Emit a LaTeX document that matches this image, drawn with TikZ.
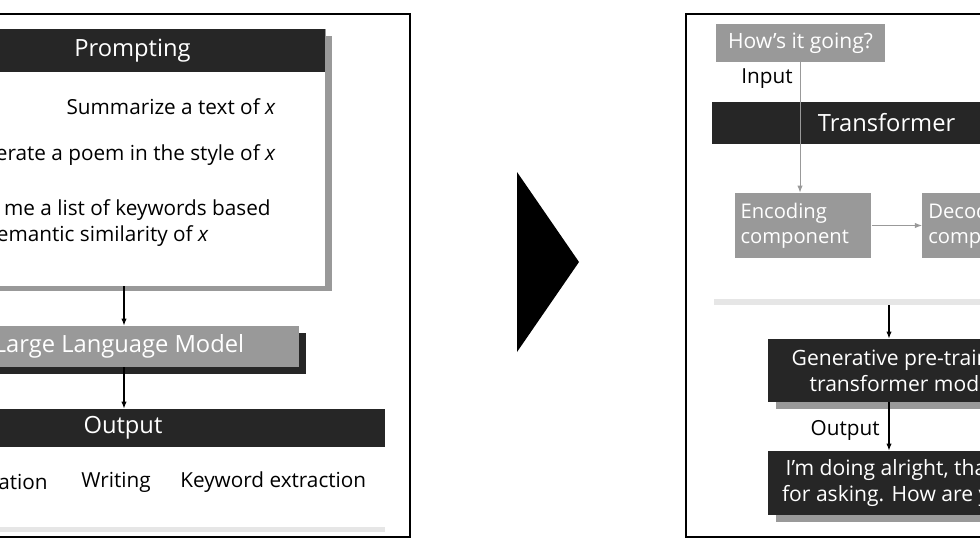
\documentclass[tikz,border=0pt]{standalone}
\usepackage{fontspec}
\setmainfont{Open Sans}
\usetikzlibrary{positioning,arrows.meta}
\definecolor{dark}{HTML}{262626}
\definecolor{mid}{HTML}{999999}
\definecolor{pale}{HTML}{E6E6E6}
\tikzset{
  head/.style={fill=dark,text=white,inner sep=0pt,font=\fontsize{13.5}{16}\selectfont},
  grbox/.style={fill=mid,text=white,inner sep=0pt,font=\fontsize{11.5}{14}\selectfont},
  txt/.style={inner sep=0pt,font=\fontsize{11.8}{14.5}\selectfont},
  arr/.style={-{Latex[length=4pt,width=3pt]},line width=0.6pt},
}
\begin{document}
\begin{tikzpicture}[x=0.02cm,y=-0.02cm]
    \useasboundingbox (0,0) rectangle (980,551);
    \clip (0,0) rectangle (980,551);
    % left panel
    \draw [line width=0.8pt] (-50,14) rectangle (410,537);
    \fill [mid] (-53,36) rectangle (332,291);
    \node [draw=mid,fill=white,minimum width=7.7cm,minimum height=5.14cm,inner sep=0pt] (prompt) at (132.5,157.5) {};
    \node [head,minimum width=7.7cm,minimum height=0.86cm] (prhead) at (132.5,50.5) {Prompting};
    \node [txt,anchor=east] (sum) at (276,107) {Summarize a text of \textit{x}};
    \node [txt,anchor=east] (poem) at (276,155) {Generate a poem in the style of \textit{x}};
    \node [txt,anchor=east,align=left] (keys) at (271,223) {Give me a list of keywords based\\on semantic similarity of \textit{x}};
    \fill [dark] (-53,333) rectangle (306,374);
    \node [grbox,font=\fontsize{13.5}{16}\selectfont,minimum width=7.2cm,minimum height=0.82cm] (llm) at (119,346.5) {Large Language Model};
    \draw [arr] (prompt.south -| 124,0) -- (llm.north -| 124,0);
    \node [head,minimum width=8.9cm,minimum height=0.76cm] (out) at (162.5,428) {\hspace*{-45pt}Output};
    \draw [arr] (llm.south -| 124,0) -- (out.north -| 124,0);
    \node [txt,anchor=east] (summ) at (48,482) {Summarization};
    \node [txt] (write) at (116,482) {Writing};
    \node [txt,anchor=west] (kw) at (180,482) {Keyword extraction};
    \fill [pale] (-50,527) rectangle (385,532);
    % middle arrow
    \fill (517,172) -- (579,262) -- (517,352) -- cycle;
    % right panel
    \draw [line width=0.8pt] (686,14) rectangle (1000,537);
    \node [grbox,font=\fontsize{12}{14}\selectfont,minimum width=3.38cm,minimum height=0.76cm] (q) at (800.5,43) {How's it going?};
    \node [txt] (inlbl) at (767,79) {Input};
    \node [head,minimum width=6cm,minimum height=0.84cm] (trans) at (862,123) {\hspace*{28pt}Transformer};
    \node [grbox,text width=2.5cm,minimum height=1.3cm,inner xsep=0.12cm] (enc) at (803,225.5) {Encoding\\component};
    \node [grbox,text width=2.5cm,minimum height=1.3cm,inner xsep=0.12cm,anchor=west] (dec) at (922,225.5) {Decoding\\component};
    \draw [arr,mid,line width=0.5pt] (q.south -| 800,0) -- (enc.north -| 800,0);
    \draw [arr,mid,line width=0.5pt] (enc) -- (dec);
    \fill [pale] (714,299) rectangle (1000,305);
    \coordinate (bar) at (889,305);
    \fill [mid] (776,395) rectangle (1040,409);
    \node [head,font=\fontsize{12}{14.5}\selectfont,align=center,minimum width=5.4cm,minimum height=1.26cm] (gpt) at (903,370.5) {Generative pre-trained\\transformer model};
    \draw [arr] (bar) -- (gpt.north -| bar);
    \fill [mid] (776,508) rectangle (1040,522);
    \node [head,font=\fontsize{12}{14.5}\selectfont,align=center,minimum width=5.4cm,minimum height=1.28cm] (ans) at (903,483) {I’m doing alright, thanks\\for asking. How are you?};
    \draw [arr] (gpt.south -| bar) -- (ans.north -| bar);
    \node [txt,anchor=east] (outlbl) at (880,430) {Output};
\end{tikzpicture}
\end{document}
